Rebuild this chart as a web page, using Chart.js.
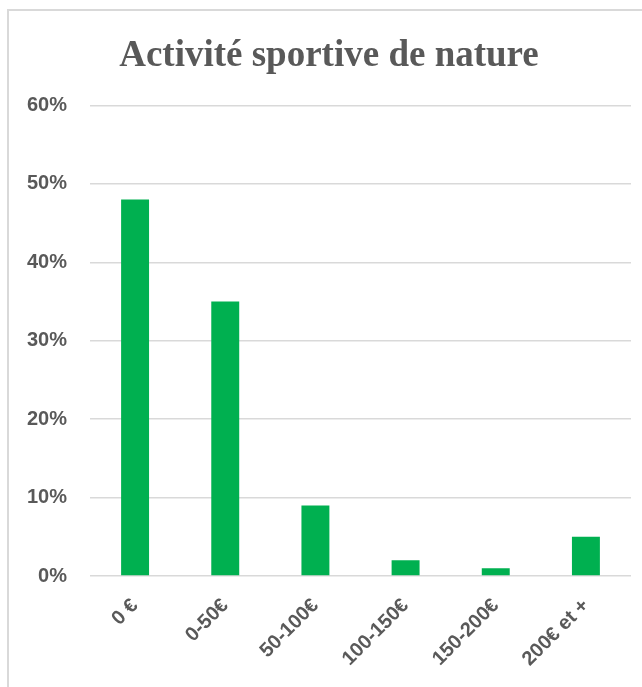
<!DOCTYPE html>
<html lang="fr">
<head>
    <meta charset="UTF-8">
    <title>Activité sportive de nature</title>
    <script src="https://cdn.jsdelivr.net/npm/chart.js"></script>
    <style>
        html, body { margin: 0; padding: 0; background: #fff; overflow: hidden; }
        /* light frame of the chart, cut off at right and bottom */
        .frame {
            position: absolute;
            left: 7px;
            top: 9px;
            width: 700px;
            height: 700px;
            border: 2px solid #d9d9d9;
        }
        .chart-container {
            position: absolute;
            left: 0;
            top: 0;
            width: 642px;
            height: 687px;
        }
    </style>
</head>
<body>
    <div class="frame"></div>
    <div class="chart-container">
        <canvas id="barChart" width="642" height="687"></canvas>
    </div>

    <script>
        // Data
        const categories = ['0 €', '0-50€', '50-100€', '100-150€', '150-200€', '200€ et +'];
        const shares = [48, 35, 9, 2, 1, 5];
        const yTicks = [0, 10, 20, 30, 40, 50, 60];

        const textColor = '#595959';
        const gridColor = '#d9d9d9';
        const labelFont = { family: '"Liberation Sans", Arial, sans-serif', size: 20, weight: 'bold' };

        const ctx = document.getElementById('barChart').getContext('2d');
        const barChart = new Chart(ctx, {
            type: 'bar',
            data: {
                labels: categories,
                datasets: [{
                    label: 'Activité sportive de nature',
                    data: shares,
                    backgroundColor: '#00B050',
                    categoryPercentage: 1,
                    barPercentage: 0.31
                }]
            },
            options: {
                responsive: false,
                animation: false,
                layout: { padding: { left: 27, right: 11, top: 0, bottom: 0 } },
                plugins: {
                    legend: { display: false },
                    tooltip: { enabled: false },
                    title: {
                        display: true,
                        text: 'Activité sportive de nature',
                        color: textColor,
                        font: { family: '"Liberation Serif", "Times New Roman", serif', size: 37, weight: 'bold' },
                        padding: { top: 34, bottom: 27 }
                    }
                },
                scales: {
                    x: {
                        grid: { display: false },
                        border: { display: false },
                        ticks: {
                            color: textColor,
                            font: labelFont,
                            minRotation: 45,
                            maxRotation: 45,
                            padding: 10
                        },
                        afterFit: (scale) => { scale.height = 111; }
                    },
                    y: {
                        min: 0,
                        max: 60,
                        afterBuildTicks: (scale) => { scale.ticks = yTicks.map(v => ({ value: v })); },
                        grid: { color: gridColor, lineWidth: 1.5, drawTicks: false },
                        border: { display: false },
                        ticks: {
                            color: textColor,
                            font: labelFont,
                            padding: 23,
                            callback: (v) => v + '%'
                        },
                        afterFit: (scale) => { scale.width = 63; }
                    }
                }
            }
        });
    </script>
</body>
</html>
